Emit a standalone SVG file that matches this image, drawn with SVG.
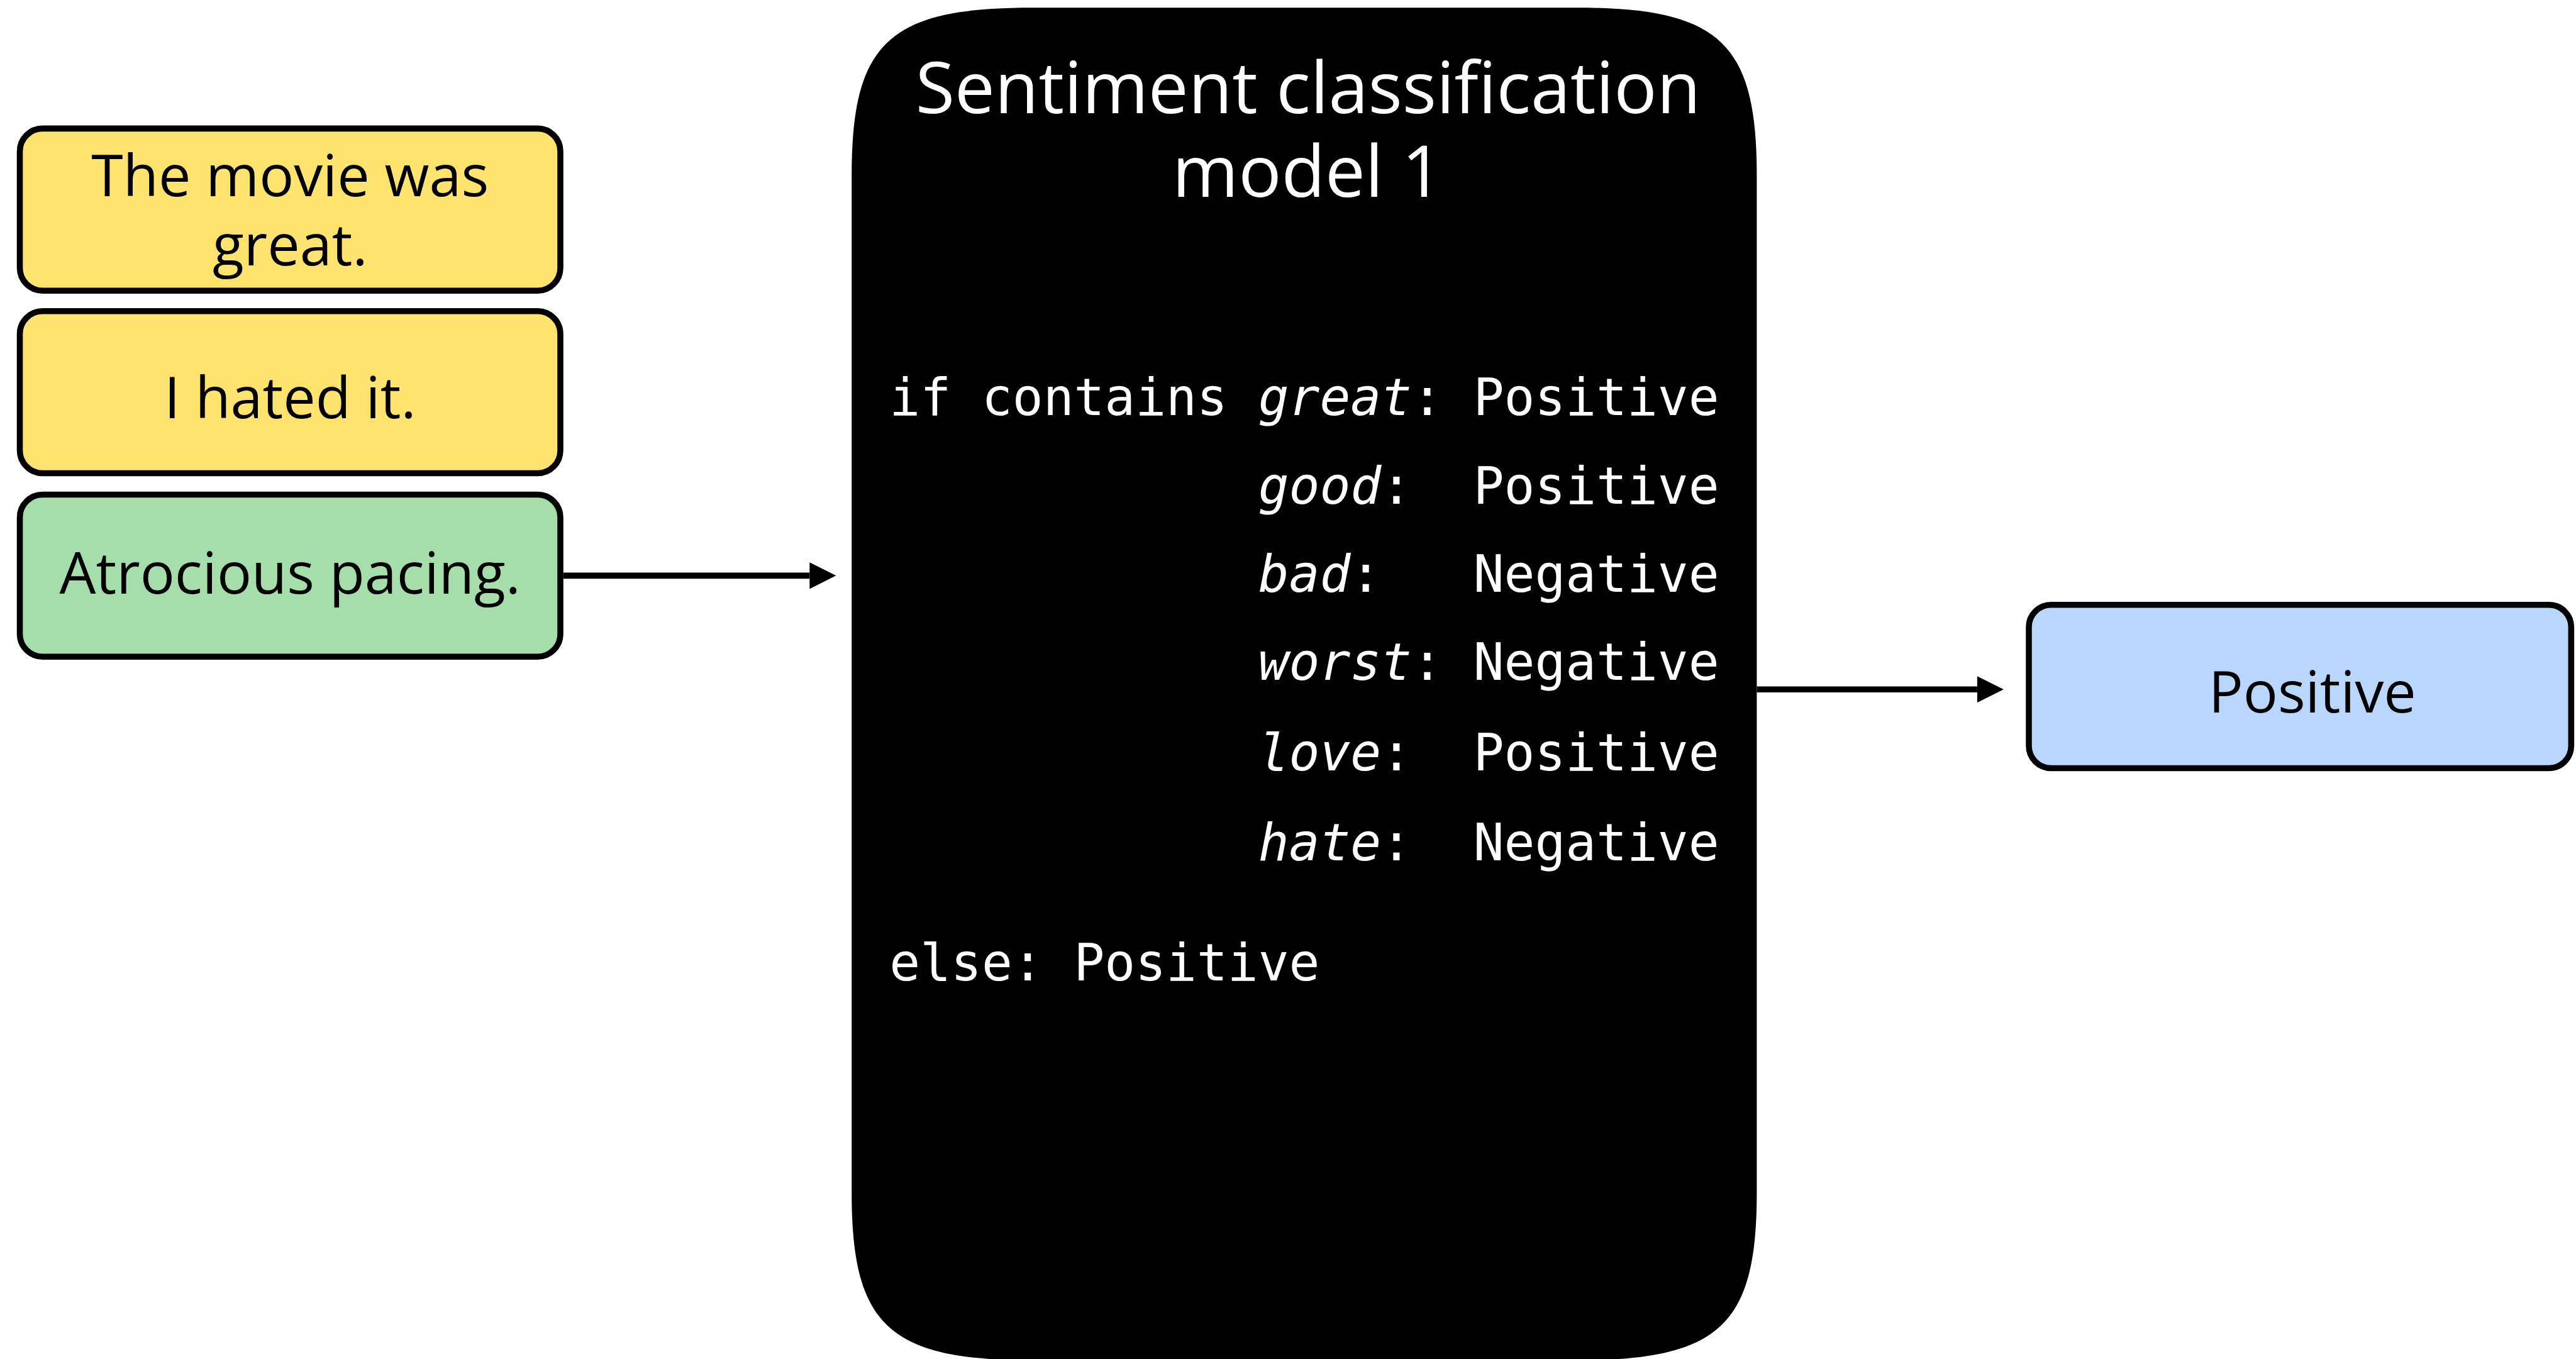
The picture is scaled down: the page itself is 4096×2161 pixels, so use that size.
<svg xmlns="http://www.w3.org/2000/svg" width="4096" height="2161" viewBox="0 0 4096 2161">
<style>
.box{stroke:#000;stroke-width:10}
.yel{fill:#FEE36F}
.grn{fill:#A5DEAB}
.blu{fill:#B8D6FE}
.lbl{font-family:"Open Sans","Liberation Sans",sans-serif;font-size:96px;fill:#000;text-anchor:middle}
.ttl{font-family:"Open Sans","Liberation Sans",sans-serif;font-size:119px;fill:#fff;text-anchor:middle}
.code{font-family:"DejaVu Sans Mono","Liberation Mono",monospace;font-size:85px;fill:#fff;white-space:pre}
.it{font-style:italic}
.conn{stroke:#000;stroke-width:10;fill:none}
</style>
<defs>
<marker id="ah" markerUnits="userSpaceOnUse" markerWidth="44" markerHeight="44" refX="0" refY="22" orient="auto" overflow="visible">
<path d="M0,0 L44,22 L0,44 Z" fill="#000"/>
</marker>
</defs>
<rect width="4096" height="2161" fill="#fff"/>
<g transform="scale(0.955)">
<g id="input1">
<rect class="box yel" x="33" y="214" width="900" height="270" rx="38" ry="38"/>
<text class="lbl" x="483" y="327">The movie was</text>
<text class="lbl" x="483" y="442">great.</text>
</g>
<g id="input2">
<rect class="box yel" x="33" y="518" width="900" height="270" rx="38" ry="38"/>
<text class="lbl" x="483" y="696">I hated it.</text>
</g>
<g id="input3">
<rect class="box grn" x="33" y="823.5" width="900" height="270" rx="38" ry="38"/>
<text class="lbl" x="483" y="988">Atrocious pacing.</text>
</g>
<g id="model">
<path d="M1418,292.7 C1418,72.7 1478,12.7 1718,12.7 L2625,12.7 C2865,12.7 2925,72.7 2925,292.7 L2925,1985 C2925,2205 2865,2265 2625,2265 L1718,2265 C1478,2265 1418,2205 1418,1985 Z" fill="#000"/>
<text class="ttl" x="2178" y="188">Sentiment classification</text>
<text class="ttl" x="2177" y="328">model 1</text>
<text class="code" x="1481" y="691" xml:space="preserve">if contains <tspan class="it">great</tspan>: Positive</text>
<text class="code" x="1481" y="839" xml:space="preserve">            <tspan class="it">good</tspan>:  Positive</text>
<text class="code" x="1481" y="985" xml:space="preserve">            <tspan class="it">bad</tspan>:   Negative</text>
<text class="code" x="1481" y="1132" xml:space="preserve">            <tspan class="it">worst</tspan>: Negative</text>
<text class="code" x="1481" y="1283" xml:space="preserve">            <tspan class="it">love</tspan>:  Positive</text>
<text class="code" x="1481" y="1432" xml:space="preserve">            <tspan class="it">hate</tspan>:  Negative</text>
<text class="code" x="1481" y="1633" xml:space="preserve">else: Positive</text>
</g>
<g id="output">
<rect class="box blu" x="3378" y="1007" width="903" height="272" rx="37" ry="37"/>
<text class="lbl" x="3850" y="1186">Positive</text>
</g>
<g id="connectors">
<line class="conn" x1="938" y1="958.5" x2="1348" y2="958.5" marker-end="url(#ah)"/>
<line class="conn" x1="2925" y1="1148" x2="3292" y2="1148" marker-end="url(#ah)"/>
</g>
</g>
</svg>
